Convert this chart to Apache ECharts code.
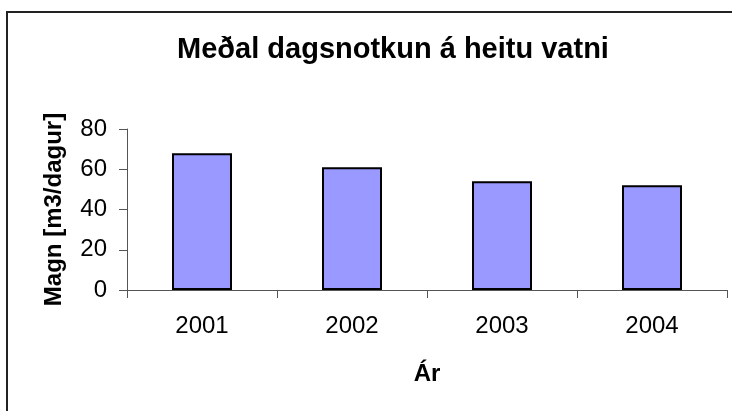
<!DOCTYPE html>
<html>
<head>
<meta charset="utf-8">
<script src="https://cdn.jsdelivr.net/npm/echarts@6/dist/echarts.min.js"></script>
<style>
  html, body { margin: 0; padding: 0; background: #fff; }
  #chart { width: 732px; height: 411px; }
</style>
</head>
<body>
<div id="chart"></div>
<script>
// data
const years = ['2001', '2002', '2003', '2004'];
const usage = [68, 61, 54, 52];
const yTicks = [0, 20, 40, 60, 80];

const font = '"Liberation Sans", Arial, sans-serif';
const chart = echarts.init(document.getElementById('chart'));

chart.setOption({
  backgroundColor: '#fff',
  animation: false,
  title: {
    text: 'Meðal dagsnotkun á heitu vatni',
    left: 388,
    top: 30,
    textAlign: 'center',
    textStyle: { fontFamily: font, fontSize: 29, fontWeight: 'bold', color: '#000' }
  },
  // outer chart frame (runs past the right/bottom edge like the source)
  graphic: [{
    type: 'rect',
    shape: { x: 7, y: 12, width: 760, height: 440 },
    style: { fill: null, stroke: '#222', lineWidth: 2 },
    silent: true
  }],
  grid: { left: 127, top: 129, right: 5, bottom: 121 },
  xAxis: {
    type: 'category',
    data: years,
    name: 'Ár',
    nameLocation: 'middle',
    nameGap: 72,
    nameTextStyle: { fontFamily: font, fontSize: 24, fontWeight: 'bold', color: '#000' },
    axisLine: { lineStyle: { color: '#555', width: 1 } },
    axisTick: { show: true, length: 8, alignWithLabel: false, lineStyle: { color: '#555' } },
    axisLabel: { margin: 24, fontFamily: font, fontSize: 24, color: '#000' }
  },
  yAxis: {
    type: 'value',
    min: yTicks[0],
    max: yTicks[yTicks.length - 1],
    interval: 20,
    name: 'Magn [m3/dagur]',
    nameLocation: 'middle',
    nameGap: 61,
    nameTextStyle: { fontFamily: font, fontSize: 24, fontWeight: 'bold', color: '#000' },
    axisLine: { show: true, lineStyle: { color: '#555', width: 1 } },
    axisTick: { show: true, length: 8, lineStyle: { color: '#555' } },
    splitLine: { show: false },
    axisLabel: { margin: 20, fontFamily: font, fontSize: 24, color: '#000' }
  },
  series: [{
    type: 'bar',
    data: usage,
    barWidth: 60,
    itemStyle: { color: '#9999FF', borderColor: '#000', borderWidth: 2 }
  }]
});
</script>
</body>
</html>
